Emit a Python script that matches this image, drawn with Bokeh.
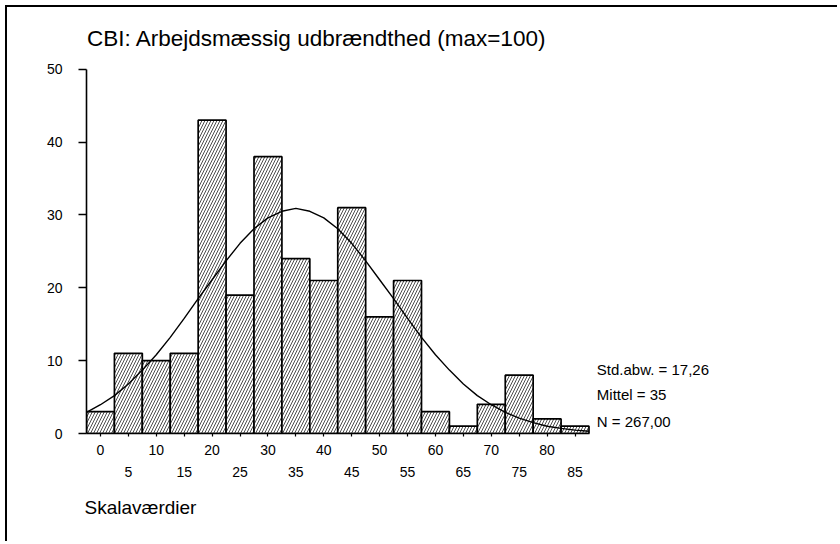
from bokeh.plotting import figure
from bokeh.models import Label, FixedTicker, LinearAxis, Range1d, Title
from bokeh.embed import file_html
from bokeh.resources import INLINE

# ---- data ----
bin_centers = [0, 5, 10, 15, 20, 25, 30, 35, 40, 45, 50, 55, 60, 65, 70, 75, 80, 85]
counts = [3, 11, 10, 11, 43, 19, 38, 24, 21, 31, 16, 21, 3, 1, 4, 8, 2, 1]
bin_width = 5

# fitted normal curve as drawn
curve_x = [-2.5, 0, 2.5, 5, 7.5, 10, 12.5, 15, 17.5, 20, 22.5, 25, 27.5, 30, 32.5, 35,
           37.5, 40, 42.5, 45, 47.5, 50, 52.5, 55, 57.5, 60, 62.5, 65, 67.5, 70, 72.5,
           75, 77.5, 80, 82.5, 85, 87.5]
curve_y = [2.9, 3.95, 5.2, 6.8, 8.7, 10.8, 13.2, 15.8, 18.5, 21.1, 23.7, 26.1, 28.1, 29.6,
           30.5, 30.9, 30.5, 29.6, 28.1, 26.1, 23.7, 21.1, 18.5, 15.8, 13.2, 10.8, 8.7,
           6.8, 5.2, 3.95, 2.9, 2.1, 1.5, 1.0, 0.7, 0.46, 0.3]

y_ticks = [0, 10, 20, 30, 40, 50]
x_ticks_row1 = [0, 10, 20, 30, 40, 50, 60, 70, 80]
x_ticks_row2 = [5, 15, 25, 35, 45, 55, 65, 75, 85]
x_bounds = (-2.5, 87.5)
y_bounds = (0, 50)

title_text = "CBI: Arbejdsmæssig udbrændthed (max=100)"
x_label = "Skalaværdier"
stats_lines = ["Std.abw. = 17,26", "Mittel = 35", "N = 267,00"]

FONT = "Liberation Sans"

# ---- layout (pixels) ----
W, H = 832, 536
B_LEFT, B_BOTTOM = 79, 110
PX_X = 502.5 / 90.0       # pixels per x unit
PX_Y = 364.3 / 50.0       # pixels per y unit
x_max = x_bounds[0] + (W - B_LEFT) / PX_X
y_max = (H - B_BOTTOM) / PX_Y

p = figure(width=W, height=H,
           x_range=Range1d(x_bounds[0], x_max), y_range=Range1d(0, y_max),
           output_backend="svg", toolbar_location=None,
           min_border_left=B_LEFT, min_border_right=0,
           min_border_top=0, min_border_bottom=B_BOTTOM)
p.styles = {"margin-left": "5px", "margin-top": "5px",
            "border-left": "2px solid black", "border-top": "2px solid black"}
p.outline_line_color = None
p.xgrid.grid_line_color = None
p.ygrid.grid_line_color = None
p.background_fill_color = "white"
p.border_fill_color = "white"

p.vbar(x=bin_centers, top=counts, width=bin_width, bottom=0,
       fill_color="white", line_color="black", line_width=1.7,
       hatch_pattern="/", hatch_color="black", hatch_weight=0.7, hatch_scale=6)

p.line(curve_x, curve_y, line_color="black", line_width=1.4)

# y axis
ya = p.yaxis[0]
ya.ticker = FixedTicker(ticks=y_ticks)
ya.bounds = y_bounds
ya.axis_line_width = 1.6
ya.axis_line_color = "black"
ya.major_tick_line_color = "black"
ya.major_tick_line_width = 1.6
ya.major_tick_out = 8
ya.major_tick_in = 0
ya.minor_tick_line_color = None
ya.major_label_standoff = 16
ya.major_label_text_font = FONT
ya.major_label_text_font_size = "14px"
ya.major_label_text_color = "black"

# x axis (row 1 labels)
xa = p.xaxis[0]
xa.ticker = FixedTicker(ticks=bin_centers)
xa.bounds = x_bounds
xa.major_label_overrides = {t: "" for t in x_ticks_row2}
xa.axis_line_width = 1.6
xa.axis_line_color = "black"
xa.major_tick_line_color = "black"
xa.major_tick_line_width = 1.2
xa.major_tick_out = 3
xa.major_tick_in = 0
xa.minor_tick_line_color = None
xa.major_label_standoff = 8
xa.major_label_text_font = FONT
xa.major_label_text_font_size = "14px"
xa.major_label_text_color = "black"

# x axis (row 2 labels, staggered)
xa2 = LinearAxis(ticker=FixedTicker(ticks=x_ticks_row2))
xa2.axis_line_color = None
xa2.major_tick_line_color = None
xa2.minor_tick_line_color = None
xa2.major_tick_out = 0
xa2.major_tick_in = 0
xa2.major_label_standoff = 9
xa2.major_label_text_font = FONT
xa2.major_label_text_font_size = "14px"
xa2.major_label_text_color = "black"
p.add_layout(xa2, "below")

# x-axis caption as a bottom title, left aligned
p.add_layout(Title(text=x_label, align="left", text_font=FONT,
                   text_font_size="19px", text_font_style="normal",
                   text_color="black", standoff=31, offset=-2), "below")

# title and statistics inside the (extended) frame
p.add_layout(Label(x=-2.4, y=54.25, text=title_text, text_font=FONT,
                   text_font_size="22.5px", text_color="black",
                   text_baseline="alphabetic", text_align="left"))
for txt, yy in zip(stats_lines, [8.75, 5.3, 1.6]):
    p.add_layout(Label(x=88.9, y=yy, text=txt, text_font=FONT,
                       text_font_size="15px", text_color="black",
                       text_baseline="alphabetic", text_align="left"))

open("out.html", "w").write(file_html(p, INLINE))
